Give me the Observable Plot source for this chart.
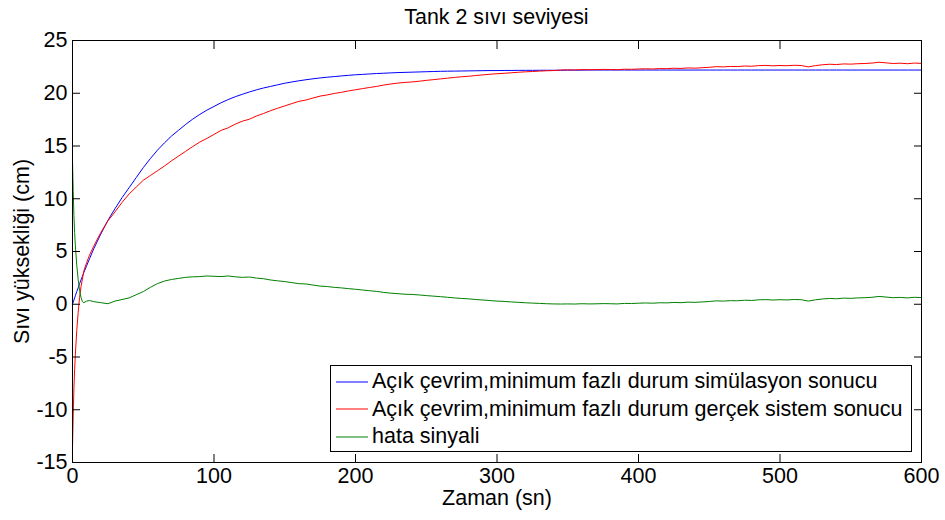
<!DOCTYPE html>
<html>
<head>
<meta charset="utf-8">
<script src="https://cdn.jsdelivr.net/npm/d3@7"></script>
<script src="https://cdn.jsdelivr.net/npm/@observablehq/plot@0.6"></script>
<style>
  html, body { margin: 0; padding: 0; background: #fff; }
  body { font-family: "Liberation Sans", Arial, sans-serif; color: #000; }
  #wrap { position: relative; width: 945px; height: 520px; overflow: hidden; }
  #title { height: 32px; line-height: 34px; padding-left: 48px; text-align: center; font-size: 21.4px; white-space: nowrap; }
  #legend { position: absolute; left: 330px; top: 365px; width: 582px; height: 87px; box-sizing: border-box;
            border: 1px solid #000; background: #fff; padding-top: 2px; }
  .row { height: 27.5px; line-height: 27.5px; font-size: 21.5px; white-space: nowrap; display: flex; align-items: center; }
  .row svg { margin-left: 5px; margin-right: 4px; flex: none; }
</style>
</head>
<body>
<div id="wrap">
  <div id="title"></div>
  <div id="chart"></div>
  <div id="legend"></div>
</div>
<script>
const titleText = "Tank 2 sıvı seviyesi";
const xLabel = "Zaman (sn)";
const yLabel = "Sıvı yüksekliği (cm)";
const legendLabels = [
  "Açık çevrim,minimum fazlı durum simülasyon sonucu",
  "Açık çevrim,minimum fazlı durum gerçek sistem sonucu",
  "hata sinyali"
];
const seriesColors = ["#0000ff", "#ff0000", "#008000"];
const xTicks = [0, 100, 200, 300, 400, 500, 600];
const yTicks = [-15, -10, -5, 0, 5, 10, 15, 20, 25];

// time (s)
const time = [
  0, 0.5, 1, 1.5, 2, 3, 4, 5, 6, 7, 8, 10, 12, 15,
  20, 25, 30, 35, 40, 45, 50, 55, 60, 65,
  70, 75, 80, 85, 90, 95, 100, 105, 110, 115,
  120, 125, 130, 135, 140, 145, 150, 155, 160, 165,
  170, 175, 180, 185, 190, 195, 200, 205, 210, 215,
  220, 225, 230, 235, 240, 245, 250, 255, 260, 265,
  270, 275, 280, 285, 290, 295, 300, 305, 310, 315,
  320, 325, 330, 335, 340, 345, 350, 355, 360, 365,
  370, 375, 380, 385, 390, 395, 400, 405, 410, 415,
  420, 425, 430, 435, 440, 445, 450, 455, 460, 465,
  470, 475, 480, 485, 490, 495, 500, 505, 510, 515,
  520, 525, 530, 535, 540, 545, 550, 555, 560, 565,
  570, 575, 580, 585, 590, 595, 600
];

// simulation result (blue)
const simulation = [
  0, 0.2, 0.4, 0.6, 0.8, 1.2, 1.55, 1.95, 2.3, 2.65, 3.0, 3.65, 4.3, 5.25,
  6.65, 7.95, 9.05, 10.1, 11.05, 12.0, 12.95, 13.8, 14.6, 15.3,
  15.95, 16.5, 17.05, 17.55, 18.0, 18.4, 18.75, 19.1, 19.4, 19.67,
  19.9, 20.12, 20.32, 20.5, 20.65, 20.8, 20.95, 21.07, 21.18, 21.28,
  21.37, 21.45, 21.52, 21.58, 21.64, 21.7, 21.75, 21.79, 21.83, 21.87,
  21.9, 21.93, 21.96, 21.98, 22.0, 22.02, 22.04, 22.06, 22.08, 22.09,
  22.1, 22.11, 22.12, 22.13, 22.14, 22.15, 22.15, 22.16, 22.16, 22.17,
  22.17, 22.17, 22.18, 22.18, 22.18, 22.18, 22.19, 22.19, 22.19, 22.2,
  22.2, 22.2, 22.2, 22.2, 22.2, 22.2, 22.2, 22.2, 22.2, 22.2,
  22.2, 22.2, 22.2, 22.2, 22.2, 22.2, 22.2, 22.2, 22.2, 22.2,
  22.2, 22.2, 22.2, 22.2, 22.2, 22.2, 22.2, 22.2, 22.2, 22.2,
  22.2, 22.2, 22.2, 22.2, 22.2, 22.2, 22.2, 22.2, 22.2, 22.2,
  22.2, 22.2, 22.2, 22.2, 22.2, 22.2, 22.2
];

// real system result (red)
const realSystem = [
  -13.6, -10.5, -8.0, -6.2, -4.8, -2.5, -0.8, 0.65, 1.65, 2.4, 3.15, 3.95, 4.65, 5.5,
  6.8, 7.9, 8.75, 9.65, 10.45, 11.1, 11.75, 12.2, 12.65, 13.1,
  13.6, 14.05, 14.5, 14.95, 15.38, 15.72, 16.1, 16.48, 16.72, 17.07,
  17.35, 17.54, 17.84, 18.08, 18.35, 18.58, 18.8, 19.02, 19.23, 19.36,
  19.55, 19.73, 19.84, 19.98, 20.09, 20.22, 20.33, 20.44, 20.55, 20.65,
  20.78, 20.88, 20.96, 21.03, 21.07, 21.14, 21.22, 21.29, 21.36, 21.43,
  21.5, 21.56, 21.61, 21.68, 21.74, 21.8, 21.85, 21.89, 21.94, 21.99,
  22.03, 22.06, 22.1, 22.13, 22.15, 22.2, 22.22, 22.21, 22.24, 22.23,
  22.24, 22.26, 22.25, 22.23, 22.28, 22.27, 22.3, 22.32, 22.3, 22.34,
  22.33, 22.37, 22.35, 22.4, 22.38, 22.42, 22.46, 22.52, 22.5, 22.54,
  22.53, 22.58, 22.56, 22.62, 22.64, 22.6, 22.63, 22.61, 22.65, 22.63,
  22.5, 22.62, 22.7, 22.75, 22.72, 22.78, 22.76, 22.8, 22.82, 22.86,
  22.94, 22.88, 22.82, 22.85, 22.8, 22.86, 22.83
];

// error signal (green)
const errorSignal = [
  13.6, 10.7, 8.4, 6.8, 5.6, 3.7, 2.35, 1.3, 0.65, 0.25, 0.15, 0.3, 0.35, 0.25,
  0.15, 0.05, 0.3, 0.45, 0.6, 0.9, 1.2, 1.6, 1.95, 2.2,
  2.35, 2.45, 2.55, 2.6, 2.62, 2.68, 2.65, 2.62, 2.68, 2.6,
  2.55, 2.58, 2.48, 2.42, 2.3, 2.22, 2.15, 2.05, 1.95, 1.92,
  1.82, 1.72, 1.68, 1.6, 1.55, 1.48, 1.42, 1.35, 1.28, 1.22,
  1.12, 1.05, 1.0, 0.95, 0.93, 0.88, 0.82, 0.77, 0.72, 0.66,
  0.6, 0.55, 0.51, 0.45, 0.4, 0.35, 0.3, 0.27, 0.22, 0.18,
  0.14, 0.11, 0.08, 0.05, 0.03, 0.02, 0.03, 0.02, 0.05, 0.03,
  0.04, 0.06, 0.05, 0.03, 0.08, 0.07, 0.1, 0.12, 0.1, 0.14,
  0.13, 0.17, 0.15, 0.2, 0.18, 0.22, 0.26, 0.32, 0.3, 0.34,
  0.33, 0.38, 0.36, 0.42, 0.44, 0.4, 0.43, 0.41, 0.45, 0.43,
  0.3, 0.42, 0.5, 0.55, 0.52, 0.58, 0.56, 0.6, 0.62, 0.66,
  0.74, 0.68, 0.62, 0.65, 0.6, 0.66, 0.63
];

const seriesValues = [simulation, realSystem, errorSignal];
const rows = [];
seriesValues.forEach((vals, s) => {
  vals.forEach((v, i) => rows.push({t: time[i], v, s}));
});

document.getElementById("title").textContent = titleText;

const fontSize = 21.5;
const chart = Plot.plot({
  width: 945,
  height: 488,
  marginTop: 8,
  marginBottom: 58,
  marginLeft: 72,
  marginRight: 24,
  style: {
    fontFamily: "'Liberation Sans', Arial, sans-serif",
    fontSize: fontSize + "px",
    color: "#000",
    background: "#fff",
    overflow: "visible"
  },
  x: {domain: [0, 600]},
  y: {domain: [-15, 25]},
  marks: [
    ...[0, 1, 2].map(s => Plot.line(rows.filter(d => d.s === s), {
      x: "t", y: "v", stroke: seriesColors[s], strokeWidth: 1
    })),
    Plot.frame({stroke: "#000", strokeWidth: 1}),
    Plot.axisX(xTicks, {anchor: "bottom", tickSize: 8, dy: -8, fill: "none", label: null, tickFormat: () => ""}),
    Plot.axisX(xTicks, {anchor: "top", tickSize: 8, dy: 8, fill: "none", label: null, tickFormat: () => ""}),
    Plot.axisY(yTicks, {anchor: "left", tickSize: 8, dx: 8, fill: "none", label: null, tickFormat: () => ""}),
    Plot.axisY(yTicks, {anchor: "right", tickSize: 8, dx: -8, fill: "none", label: null, tickFormat: () => ""}),
    Plot.axisX(xTicks, {anchor: "bottom", tickSize: 0, tickPadding: 5, label: null, tickFormat: d => String(d)}),
    Plot.axisY(yTicks, {anchor: "left", tickSize: 0, tickPadding: 5, label: null, tickFormat: d => String(d)}),
    Plot.text([xLabel], {frameAnchor: "bottom", lineAnchor: "middle", textAnchor: "middle", dy: 36, text: d => d, fontSize}),
    Plot.text([yLabel], {frameAnchor: "left", lineAnchor: "middle", textAnchor: "middle", rotate: -90, dx: -50, text: d => d, fontSize})
  ]
});
document.getElementById("chart").appendChild(chart);

const legend = document.getElementById("legend");
legendLabels.forEach((label, i) => {
  const row = document.createElement("div");
  row.className = "row";
  row.innerHTML = `<svg width="32" height="4"><line x1="0" y1="2" x2="32" y2="2" stroke="${seriesColors[i]}" stroke-width="1"/></svg><span></span>`;
  row.querySelector("span").textContent = label;
  legend.appendChild(row);
});
</script>
</body>
</html>
